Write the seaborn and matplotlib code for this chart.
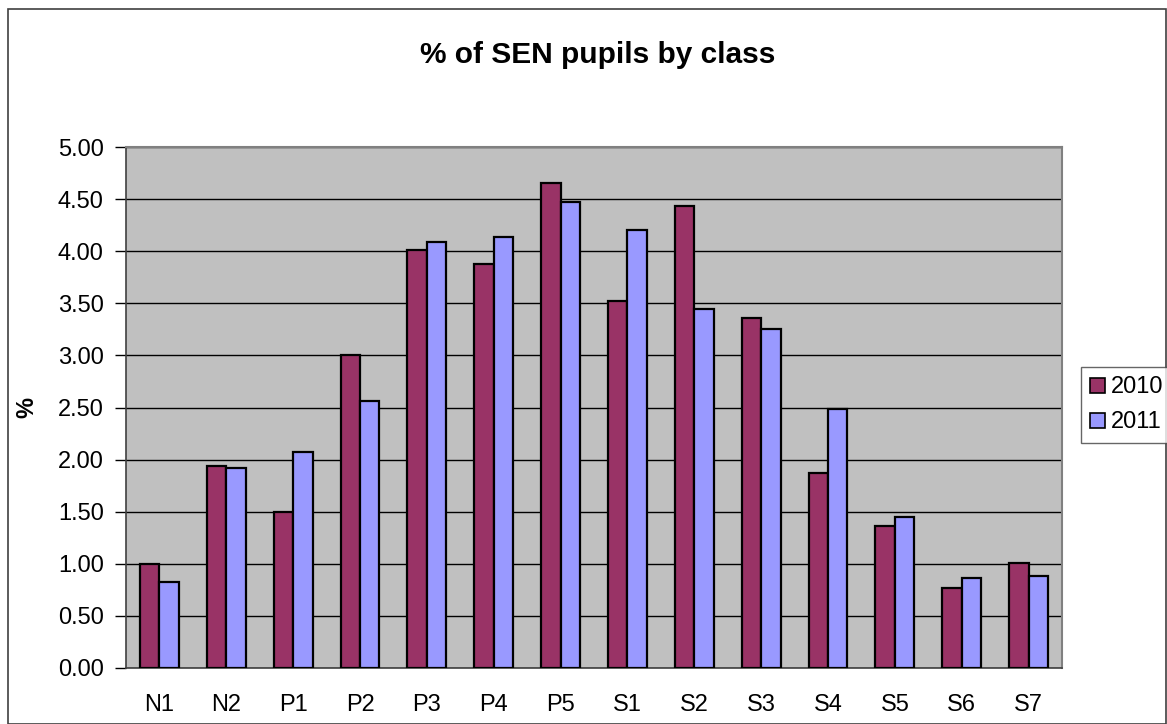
import matplotlib
matplotlib.use("Agg")
import matplotlib.pyplot as plt
import matplotlib.patches as mpatches
import seaborn as sns
import pandas as pd
import numpy as np

classes = ["N1", "N2", "P1", "P2", "P3", "P4", "P5", "S1", "S2", "S3", "S4", "S5", "S6", "S7"]
years = ["2010", "2011"]
pct_2010 = [1.00, 1.94, 1.50, 3.00, 4.01, 3.88, 4.65, 3.52, 4.43, 3.36, 1.87, 1.36, 0.77, 1.01]
pct_2011 = [0.83, 1.92, 2.07, 2.56, 4.09, 4.14, 4.47, 4.20, 3.45, 3.25, 2.49, 1.45, 0.86, 0.88]
colors = ["#993366", "#9999FF"]

df = pd.DataFrame({
    "class": classes * 2,
    "year": [years[0]] * len(classes) + [years[1]] * len(classes),
    "pct": pct_2010 + pct_2011,
})

sns.set_style("white")
plt.rcParams["font.family"] = ["Liberation Sans", "DejaVu Sans"]
plt.rcParams["text.color"] = "black"
plt.rcParams["xtick.color"] = "black"
plt.rcParams["ytick.color"] = "black"
plt.rcParams["axes.labelcolor"] = "black"

W, H = 1167, 724
fig = plt.figure(figsize=(W / 100, H / 100), dpi=100)
ax = fig.add_axes([126 / W, 1 - 668 / H, (1062 - 126) / W, (668 - 147) / H])
ax.set_facecolor("#C0C0C0")

sns.barplot(data=df, x="class", y="pct", hue="year", order=classes, hue_order=years,
            palette=colors, width=0.58, edgecolor="black", linewidth=1.6,
            saturation=1, ax=ax, legend=False, errorbar=None, zorder=3)

ax.set_ylim(0, 5)
ax.set_xlim(-0.5, len(classes) - 0.5)
ax.set_yticks(np.arange(0, 5.01, 0.5))
ax.set_yticklabels([f"{v:.2f}" for v in np.arange(0, 5.01, 0.5)], fontsize=17)
ax.grid(axis="y", color="black", linewidth=1, zorder=1)
ax.set_axisbelow(True)

ax.set_xticks(range(len(classes)))
ax.set_xticklabels(classes, fontsize=17)
ax.set_xticks(np.arange(-0.5, len(classes)), minor=True)
ax.tick_params(axis="x", which="major", length=0, pad=19)
ax.tick_params(axis="x", which="minor", length=8, width=1, color="black", direction="out")
ax.tick_params(axis="y", length=8, width=1, color="black", direction="out", pad=8, left=True)

ax.set_xlabel("")
ax.set_ylabel("%", fontsize=17, fontweight="bold", labelpad=14)

for side in ["left", "bottom"]:
    ax.spines[side].set_color("#404040")
    ax.spines[side].set_linewidth(1.2)
for side in ["top", "right"]:
    ax.spines[side].set_color("#808080")
    ax.spines[side].set_linewidth(1.5)

fig.text(598 / W, 1 - 55 / H, "% of SEN pupils by class", ha="center", va="center",
         fontsize=21.5, fontweight="bold")

handles = [mpatches.Patch(facecolor=c, edgecolor="black", linewidth=1.2, label=y)
           for c, y in zip(colors, years)]
leg = fig.legend(handles=handles, loc="upper left", bbox_to_anchor=(1081 / W, 1 - 367 / H),
                 fontsize=17, frameon=True, fancybox=False, borderaxespad=0,
                 handlelength=0.6, handleheight=0.6, handletextpad=0.25,
                 labelspacing=0.55, borderpad=0.4)
leg.get_frame().set_edgecolor("#404040")
leg.get_frame().set_linewidth(1)

fig.patches.append(mpatches.Rectangle((8 / W, 0), 1 - 8 / W - 1 / W, 1 - 8 / H - 0.5 / H,
                                      transform=fig.transFigure, fill=False,
                                      edgecolor="#404040", linewidth=1.2))

fig.savefig("out.png", dpi=100, facecolor="white")
